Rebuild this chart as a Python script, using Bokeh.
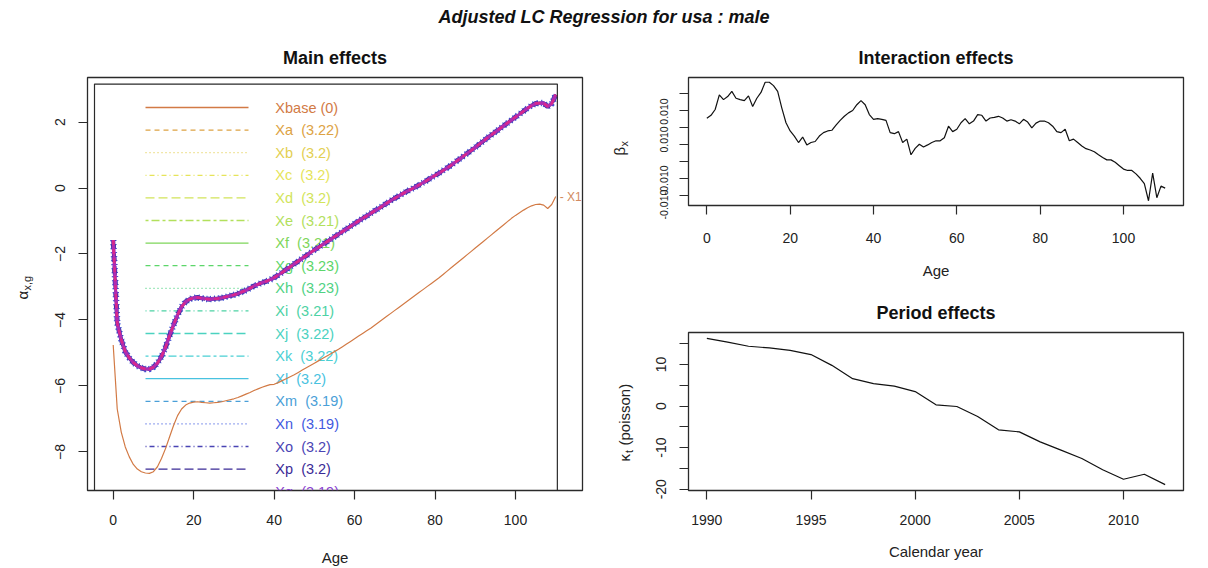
import math
from bokeh.plotting import figure
from bokeh.models import Range1d, FixedTicker, BoxAnnotation, Div, LinearAxis
from bokeh.layouts import column, row
from bokeh.embed import file_html
from bokeh.resources import INLINE
from bokeh.core.properties import value

# ---------------- data ----------------
ages = list(range(0, 111))

alpha = [-1.58, -4.10, -4.60, -4.96, -5.15, -5.29, -5.39, -5.45, -5.49, -5.49,
         -5.43, -5.31, -5.11, -4.83, -4.48, -4.15, -3.85, -3.60, -3.45, -3.37,
         -3.33, -3.32, -3.34, -3.36, -3.37, -3.36, -3.35, -3.33, -3.30, -3.27,
         -3.24, -3.20, -3.15, -3.10, -3.04, -2.97, -2.92, -2.87, -2.83, -2.78,
         -2.72, -2.64, -2.56, -2.47, -2.39, -2.30, -2.22, -2.13, -2.05, -1.96,
         -1.88, -1.80, -1.72, -1.64, -1.56, -1.48, -1.40, -1.32, -1.24, -1.16,
         -1.08, -1.00, -0.92, -0.85, -0.77, -0.69, -0.62, -0.54, -0.46, -0.38,
         -0.31, -0.24, -0.17, -0.10, -0.04, 0.02, 0.09, 0.16, 0.23, 0.31,
         0.38, 0.45, 0.53, 0.61, 0.69, 0.78, 0.87, 0.96, 1.05, 1.14,
         1.23, 1.33, 1.42, 1.52, 1.61, 1.70, 1.79, 1.88, 1.97, 2.06,
         2.15, 2.24, 2.33, 2.42, 2.50, 2.56, 2.58, 2.57, 2.47, 2.56,
         2.83]

xbase = [-4.76, -6.70, -7.40, -7.85, -8.15, -8.38, -8.52, -8.60, -8.64, -8.65,
         -8.60, -8.45, -8.20, -7.90, -7.55, -7.20, -6.90, -6.70, -6.58, -6.52,
         -6.49, -6.48, -6.50, -6.51, -6.52, -6.51, -6.50, -6.48, -6.45, -6.42,
         -6.39, -6.35, -6.30, -6.25, -6.20, -6.14, -6.09, -6.04, -6.00, -5.96,
         -5.95, -5.90, -5.84, -5.78, -5.72, -5.66, -5.59, -5.52, -5.45, -5.38,
         -5.31, -5.24, -5.17, -5.10, -5.03, -4.96, -4.89, -4.81, -4.73, -4.65,
         -4.57, -4.49, -4.41, -4.33, -4.25, -4.16, -4.07, -3.98, -3.89, -3.80,
         -3.71, -3.62, -3.53, -3.44, -3.35, -3.26, -3.17, -3.08, -2.99, -2.90,
         -2.81, -2.72, -2.62, -2.52, -2.42, -2.32, -2.22, -2.12, -2.02, -1.92,
         -1.82, -1.72, -1.62, -1.52, -1.42, -1.32, -1.22, -1.12, -1.02, -0.92,
         -0.83, -0.75, -0.67, -0.60, -0.54, -0.50, -0.49, -0.52, -0.62, -0.50,
         -0.26]

beta = [0.0076, 0.0085, 0.0102, 0.0145, 0.0131, 0.0140, 0.0155, 0.0135, 0.0131, 0.0128,
        0.0142, 0.0111, 0.0135, 0.0152, 0.0182, 0.0182, 0.0172, 0.0155, 0.0106, 0.0063,
        0.0039, 0.0024, 0.0005, 0.0021, -0.0002, 0.0005, 0.0008, 0.0024, 0.0034, 0.0039,
        0.0041, 0.0056, 0.0070, 0.0082, 0.0092, 0.0099, 0.0116, 0.0128, 0.0116, 0.0087,
        0.0073, 0.0075, 0.0073, 0.0070, 0.0034, 0.0031, 0.0037, 0.0005, 0.0015, -0.0031,
        -0.0012, 0.0000, -0.0008, -0.0002, 0.0005, 0.0010, 0.0010, 0.0019, 0.0053, 0.0037,
        0.0044, 0.0063, 0.0075, 0.0060, 0.0068, 0.0087, 0.0085, 0.0068, 0.0077, 0.0079,
        0.0082, 0.0077, 0.0068, 0.0072, 0.0068, 0.0060, 0.0073, 0.0065, 0.0048, 0.0062,
        0.0068, 0.0068, 0.0063, 0.0053, 0.0037, 0.0034, 0.0044, 0.0010, 0.0015, 0.0005,
        -0.0005, -0.0013, -0.0017, -0.0022, -0.0031, -0.0039, -0.0046, -0.0046, -0.0053, -0.0063,
        -0.0073, -0.0077, -0.0077, -0.0087, -0.0100, -0.0116, -0.0166, -0.0085, -0.0157, -0.0123,
        -0.0129]

years = list(range(1990, 2013))
kappa = [16.3, 15.4, 14.4, 14.0, 13.4, 12.4, 9.8, 6.6, 5.4, 4.8, 3.5, 0.3,
         -0.1, -2.5, -5.7, -6.2, -8.6, -10.6, -12.6, -15.3, -17.6, -16.4, -18.9]

series_names = ["Xbase", "Xa", "Xb", "Xc", "Xd", "Xe", "Xf", "Xg", "Xh", "Xi",
                "Xj", "Xk", "Xl", "Xm", "Xn", "Xo", "Xp", "Xq", "Xr", "Xs"]
series_gaps = ["0", "3.22", "3.2", "3.2", "3.2", "3.21", "3.21", "3.23", "3.23", "3.21",
               "3.22", "3.22", "3.2", "3.19", "3.19", "3.2", "3.2", "3.19", "3.19", "3.2"]
series_colors = ["#D27A45", "#DDA243", "#E3CF52", "#E6E45A", "#D2E45A", "#B2E05C",
                 "#7ED65A", "#5CD66A", "#4FD283", "#4DD2A4", "#4BD2C0", "#4ACFD4",
                 "#48C2E0", "#4A9FD8", "#3F5AE0", "#4A44B4", "#3A2A96", "#8A3FD0",
                 "#B02CB0", "#D8288C"]
lty_cycle = ["solid", "5 4", "1 3", "1 3 5 3", "9 4", "3 3 8 3"]

main_x_ticks = [0, 20, 40, 60, 80, 100]
main_y_ticks = [-8, -6, -4, -2, 0, 2]
inter_y_ticks = [-0.015, -0.010, -0.005, 0.0, 0.005, 0.010, 0.015]
inter_y_labels = ["0.010", "0.010", "-0.010", "-0.010"]
inter_y_label_pos = [0.0096, 0.0014, -0.0106, -0.0177]
period_x_ticks = [1990, 1995, 2000, 2005, 2010]
period_y_ticks = [-20, -15, -10, -5, 0, 5, 10, 15]
period_y_labeled = [-20, -10, 0, 10]

FONT = "Liberation Sans"
TXT = "#222222"
BOX = "#2a2a2a"


def style(p, title, standoff):
    p.title.text = title
    p.title.align = "center"
    p.title.vertical_align = "top"
    p.title.text_line_height = 1.12
    p.title.text_font = FONT
    p.title.text_font_size = "18px"
    p.title.text_font_style = "bold"
    p.title.text_color = "#111111"
    p.title.standoff = standoff
    p.outline_line_color = BOX
    p.outline_line_width = 1.3
    p.xgrid.visible = False
    p.ygrid.visible = False
    for ax in p.axis:
        ax.axis_line_color = None
        ax.major_tick_line_color = BOX
        ax.major_tick_line_width = 1.2
        ax.major_tick_out = 9
        ax.major_tick_in = 0
        ax.minor_tick_line_color = None
        ax.major_label_text_font = FONT
        ax.major_label_text_font_size = "14px"
        ax.major_label_text_color = TXT
        ax.major_label_standoff = 13
        ax.axis_label_text_font = FONT
        ax.axis_label_text_font_size = "15px"
        ax.axis_label_text_font_style = "normal"
        ax.axis_label_text_color = TXT
        ax.axis_label_standoff = 20
    p.yaxis.major_label_orientation = "vertical"


def strip(width, neighbour, top, bottom, frame_h):
    # narrow companion figure sharing the neighbour's y scale (for rotated y titles)
    s = figure(frame_width=width, frame_height=frame_h,
               x_range=Range1d(0, width), y_range=neighbour.y_range,
               min_border_left=0, min_border_right=0,
               min_border_top=top, min_border_bottom=bottom,
               x_axis_location=None, y_axis_location=None,
               output_backend="svg", toolbar_location=None)
    s.title = None
    s.outline_line_color = None
    s.xgrid.visible = False
    s.ygrid.visible = False
    return s


def rot_text(s, x, y, text, size, align="left"):
    s.text(x=[x], y=[y], text=[text], angle=math.pi / 2,
           text_align=align, text_baseline="middle",
           text_font=value(FONT), text_font_size=f"{size}px", text_color=TXT)


# ---------------- main effects ----------------
M_TOP, M_BOT, M_H = 41, 78, 413
main = figure(frame_width=495, frame_height=M_H,
              x_range=Range1d(-6.39, 116.65), y_range=Range1d(-9.17, 3.35),
              min_border_left=47, min_border_right=18,
              min_border_top=M_TOP, min_border_bottom=M_BOT,
              output_backend="svg", toolbar_location=None)
style(main, "Main effects", 16)
main.xaxis.ticker = FixedTicker(ticks=main_x_ticks)
main.yaxis.ticker = FixedTicker(ticks=main_y_ticks)
main.xaxis.axis_label = "Age"
main.xaxis.major_label_standoff = 15
main.xaxis.axis_label_standoff = 21

# inner (legend) frame
main.add_layout(BoxAnnotation(left=-4.65, right=110.4, top=3.15, bottom=-9.17,
                              fill_color=None, line_color=BOX, line_alpha=1.0, line_width=1.2))

m_ppu = M_H / (3.35 + 9.17)          # pixels per unit on the main y scale
row_px0, row_step = 30.0, 22.6       # first legend row, px below frame top; row spacing
for i, (name, gap, col) in enumerate(zip(series_names[:18], series_gaps, series_colors)):
    yv = 3.35 - (row_px0 + i * row_step) / m_ppu
    main.line([8.03, 33.63], [yv, yv], line_color=col, line_width=1.3,
              line_dash=lty_cycle[i % 6])
    lab = f"{name} ({gap})" if name == "Xbase" else f"{name}\u00a0 ({gap})"
    main.text(x=[40.3], y=[yv], text=[lab], text_color=col,
              text_font=value(FONT), text_font_size="14.5px",
              text_align="left", text_baseline="middle")

main.line(ages, xbase, line_color=series_colors[0], line_width=1.2)
main.text(x=[ages[-1]], y=[xbase[-1]], text=["- X1"], x_offset=4,
          text_color="#D28A60", text_font=value(FONT), text_font_size="12px",
          text_align="left", text_baseline="middle")

widths = {"Xn": 6.5, "Xo": 5, "Xp": 4, "Xq": 3.5, "Xr": 3, "Xs": 2.5}
for i, (name, col) in enumerate(zip(series_names, series_colors)):
    if i == 0:
        continue
    main.line(ages, alpha, line_color=col, line_width=widths.get(name, 2.5),
              line_dash=lty_cycle[i % 6])

main_lab = strip(40, main, M_TOP, M_BOT, M_H)
a_y = 3.35 - (299 - 77) / m_ppu
rot_text(main_lab, 22, a_y, "α", 15)
rot_text(main_lab, 26, a_y + 9 / m_ppu, "x,g", 11)

# ---------------- interaction effects ----------------
bmin, bmax = min(beta), max(beta)
bpad = 0.04 * (bmax - bmin)
b_lo, b_hi = bmin - bpad, bmax + bpad
I_TOP, I_BOT, I_H, I_LEFT = 41, 83, 128, 40
inter = figure(frame_width=495, frame_height=I_H,
               x_range=Range1d(-4.4, 114.4), y_range=Range1d(b_lo, b_hi),
               min_border_left=I_LEFT, min_border_right=25,
               min_border_top=I_TOP, min_border_bottom=I_BOT,
               output_backend="svg", toolbar_location=None)
style(inter, "Interaction effects", 16)
inter.xaxis.ticker = FixedTicker(ticks=main_x_ticks)
inter.xaxis.major_label_standoff = 18
inter.xaxis.axis_label_standoff = 16
inter.yaxis.ticker = FixedTicker(ticks=inter_y_ticks)
inter.yaxis.major_label_overrides = {t: "" for t in inter_y_ticks}
inter.yaxis.major_label_standoff = 0
inter.xaxis.axis_label = "Age"

lab_axis = LinearAxis(ticker=FixedTicker(ticks=inter_y_label_pos),
                      major_label_overrides=dict(zip(inter_y_label_pos, inter_y_labels)),
                      axis_line_color=None, major_tick_line_color=None,
                      minor_tick_line_color=None, major_tick_out=0, major_tick_in=0,
                      major_label_standoff=11, major_label_orientation="vertical",
                      major_label_text_font=FONT, major_label_text_font_size="10.5px",
                      major_label_text_color=TXT)
inter.add_layout(lab_axis, "left")
inter.line(ages, beta, line_color="#111111", line_width=1.2)

inter_lab = strip(608 - 495 - 25 - I_LEFT, inter, I_TOP, I_BOT, I_H)
i_ppu = I_H / (b_hi - b_lo)
b_y = b_hi - (155 - 77) / i_ppu
rot_text(inter_lab, 19, b_y, "β", 15)
rot_text(inter_lab, 23, b_y + 9 / i_ppu, "x", 11)

# ---------------- period effects ----------------
kmin, kmax = min(kappa), max(kappa)
kpad = 0.04 * (kmax - kmin)
k_lo, k_hi = kmin - kpad, kmax + kpad
ypad = 0.04 * (years[-1] - years[0])
P_TOP, P_BOT, P_H = 44, 78, 158
period = figure(frame_width=495, frame_height=P_H,
                x_range=Range1d(years[0] - ypad, years[-1] + ypad),
                y_range=Range1d(k_lo, k_hi),
                min_border_left=48, min_border_right=25,
                min_border_top=P_TOP, min_border_bottom=P_BOT,
                output_backend="svg", toolbar_location=None)
style(period, "Period effects", 16)
period.xaxis.ticker = FixedTicker(ticks=period_x_ticks)
period.xaxis.major_label_standoff = 15
period.xaxis.axis_label_standoff = 15
period.yaxis.ticker = FixedTicker(ticks=period_y_ticks)
period.yaxis.major_label_overrides = {t: (str(t) if t in period_y_labeled else "")
                                      for t in period_y_ticks}
period.xaxis.axis_label = "Calendar year"
period.line(years, kappa, line_color="#111111", line_width=1.2)

period_lab = strip(40, period, P_TOP, P_BOT, P_H)
p_ppu = P_H / (k_hi - k_lo)
k_y = k_hi - (461 - 332) / p_ppu
rot_text(period_lab, 24, k_y, "κ", 15)
rot_text(period_lab, 28, k_y + 8.5 / p_ppu, "t", 11)
rot_text(period_lab, 24, k_y + 16 / p_ppu, "(poisson)", 15)

# ---------------- page ----------------
title_div = Div(text="Adjusted LC Regression for usa : male", width=1208, height=36,
                margin=(0, 0, 0, 0),
                styles={"text-align": "center", "font-family": FONT, "font-size": "18px",
                        "font-weight": "bold", "font-style": "italic", "line-height": "34px",
                        "color": "#111111", "width": "1208px"})

layout = column(title_div,
                row(main_lab, main,
                    column(row(inter_lab, inter, spacing=0),
                           row(period_lab, period, spacing=0), spacing=0),
                    spacing=0),
                spacing=0)

open("out.html", "w").write(file_html(layout, INLINE))
